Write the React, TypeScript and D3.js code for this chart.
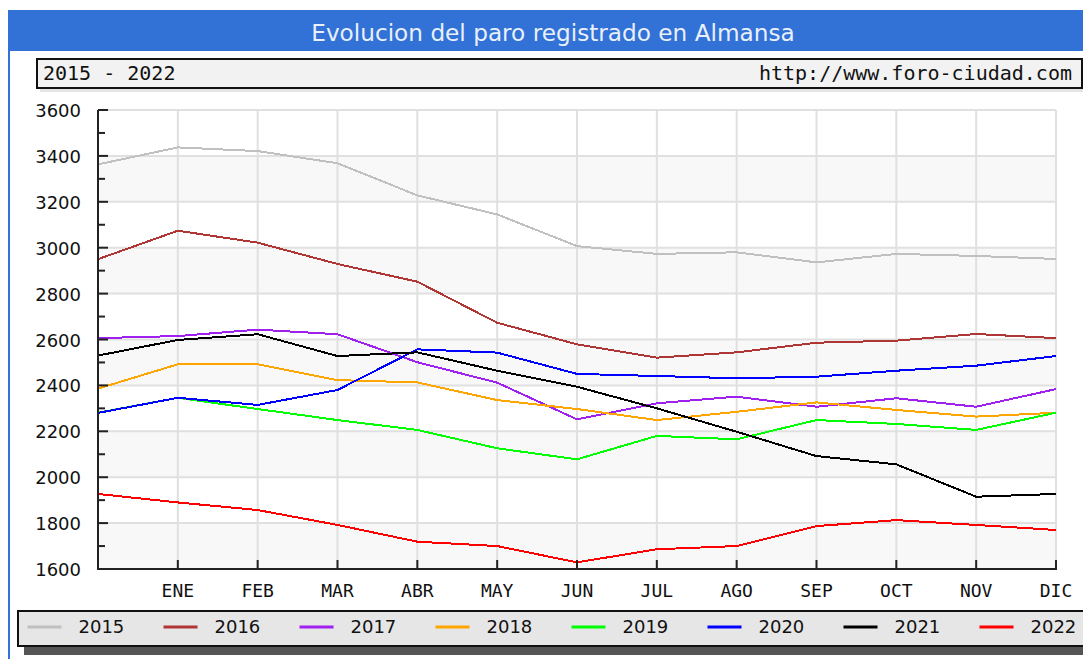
import React from "react";
import * as d3 from "d3";

const months = ["", "ENE", "FEB", "MAR", "ABR", "MAY", "JUN", "JUL", "AGO", "SEP", "OCT", "NOV", "DIC"];
const years = ["2015", "2016", "2017", "2018", "2019", "2020", "2021", "2022"];
const yearColors = ["#c0c0c0", "#b03535", "#a020f0", "#ffa500", "#00ff00", "#0000ff", "#000000", "#ff0000"];

// first point = previous december
const paro2015 = [3363, 3437, 3421, 3368, 3228, 3145, 3007, 2973, 2980, 2936, 2973, 2964, 2951];
const paro2016 = [2950, 3074, 3022, 2929, 2852, 2673, 2579, 2521, 2544, 2586, 2595, 2624, 2606];
const paro2017 = [2606, 2615, 2643, 2623, 2501, 2412, 2252, 2322, 2351, 2307, 2344, 2307, 2384];
const paro2018 = [2386, 2492, 2492, 2423, 2413, 2336, 2297, 2249, 2285, 2326, 2293, 2264, 2281];
const paro2019 = [2281, 2346, 2297, 2249, 2206, 2126, 2078, 2180, 2165, 2249, 2232, 2206, 2281];
const paro2020 = [2280, 2346, 2315, 2380, 2557, 2543, 2450, 2441, 2431, 2438, 2464, 2486, 2528];
const paro2021 = [2530, 2598, 2623, 2528, 2544, 2464, 2394, 2300, 2198, 2092, 2056, 1915, 1927];
const paro2022 = [1927, 1890, 1857, 1792, 1719, 1700, 1629, 1686, 1700, 1787, 1813, 1792, 1770];

const series = [paro2015, paro2016, paro2017, paro2018, paro2019, paro2020, paro2021, paro2022];

const W = 1083;
const H = 659;
const plot = { left: 98, right: 1056, top: 110, bottom: 569 };

const App: React.FC = () => {
  const x = d3.scaleLinear().domain([0, months.length - 1]).range([plot.left, plot.right]);
  const y = d3.scaleLinear().domain([1600, 3600]).range([plot.bottom, plot.top]);

  const line = d3
    .line<number>()
    .x((_, i) => x(i))
    .y((d) => y(d));

  const majorTicks = d3.range(1600, 3601, 200);
  const minorTicks = d3.range(1700, 3600, 200);
  // shaded bands every other 200
  const bands = [1600, 2000, 2400, 2800, 3200];

  const sans = "'DejaVu Sans', Verdana, sans-serif";
  const mono = "'DejaVu Sans Mono', monospace";

  return (
    <svg
      width={W}
      height={H}
      style={{ position: "absolute", left: 0, top: 0, background: "#fff" }}
    >
      {/* outer panel */}
      <rect x={9} y={11} width={W + 20} height={H + 20} fill="#fff" stroke="#3271d6" strokeWidth={2} />
      <rect x={8} y={10} width={W + 20} height={41} fill="#3271d6" />
      <text x={553} y={41} textAnchor="middle" fontFamily={sans} fontSize={23.2} fill="#e8f0fb">
        Evolucion del paro registrado en Almansa
      </text>

      {/* subtitle box */}
      <rect x={40} y={62} width={1046} height={30} fill="#e4e4e4" />
      <rect x={37} y={59} width={1045} height={29} fill="#f2f2f2" stroke="#111" strokeWidth={2} />
      <text x={43} y={80} fontFamily={mono} fontSize={20} fill="#111">
        2015 - 2022
      </text>
      <text x={1072} y={80} textAnchor="end" fontFamily={mono} fontSize={20} fill="#111">
        http://www.foro-ciudad.com
      </text>

      {/* bands */}
      {bands.map((b) => (
        <rect
          key={b}
          x={plot.left}
          y={y(b + 200)}
          width={plot.right - plot.left}
          height={y(b) - y(b + 200)}
          fill="#f8f8f8"
        />
      ))}

      {/* grid */}
      {majorTicks.map((t) => (
        <line key={"h" + t} x1={plot.left} x2={plot.right} y1={y(t)} y2={y(t)} stroke="#e0e0e0" strokeWidth={2} />
      ))}
      {months.map((m, i) =>
        i === 0 ? null : (
          <line key={"v" + i} x1={x(i)} x2={x(i)} y1={plot.top} y2={plot.bottom} stroke="#e0e0e0" strokeWidth={2} />
        )
      )}

      {/* series */}
      {series.map((s, i) => (
        <path
          key={years[i]}
          d={line(s) || ""}
          fill="none"
          stroke={yearColors[i]}
          strokeWidth={2}
          shapeRendering="crispEdges"
        />
      ))}

      {/* axes */}
      <line x1={plot.left} x2={plot.left} y1={plot.top} y2={plot.bottom + 1} stroke="#222" strokeWidth={2} />
      <line x1={plot.left - 1} x2={plot.right + 1} y1={plot.bottom} y2={plot.bottom} stroke="#222" strokeWidth={2} />
      {majorTicks.map((t) => (
        <line key={"mt" + t} x1={plot.left} x2={plot.left + 10} y1={y(t)} y2={y(t)} stroke="#222" strokeWidth={2} />
      ))}
      {minorTicks.map((t) => (
        <line key={"nt" + t} x1={plot.left} x2={plot.left + 7} y1={y(t)} y2={y(t)} stroke="#222" strokeWidth={2} />
      ))}
      {months.map((m, i) =>
        i === 0 ? null : (
          <line key={"xt" + i} x1={x(i)} x2={x(i)} y1={plot.bottom} y2={plot.bottom - 9} stroke="#222" strokeWidth={2} />
        )
      )}

      {/* tick labels */}
      {majorTicks.map((t) => (
        <text key={"yl" + t} x={81} y={y(t) + 7} textAnchor="end" fontFamily={sans} fontSize={18} fill="#111">
          {t}
        </text>
      ))}
      {months.map((m, i) => (
        <text key={"xl" + i} x={x(i)} y={597} textAnchor="middle" fontFamily={mono} fontSize={18} fill="#111">
          {m}
        </text>
      ))}

      {/* legend */}
      <rect x={24} y={617} width={1070} height={38} fill="#555" />
      <rect x={18} y={611} width={1070} height={35} fill="#e6e6e6" stroke="#111" strokeWidth={2} />
      {years.map((yr, i) => (
        <g key={"lg" + yr} transform={`translate(${27.5 + i * 136},0)`}>
          <line x1={0} x2={34} y1={627} y2={627} stroke={yearColors[i]} strokeWidth={3} />
          <text x={51} y={633} fontFamily={sans} fontSize={18} fill="#111">
            {yr}
          </text>
        </g>
      ))}
    </svg>
  );
};

export default App;
